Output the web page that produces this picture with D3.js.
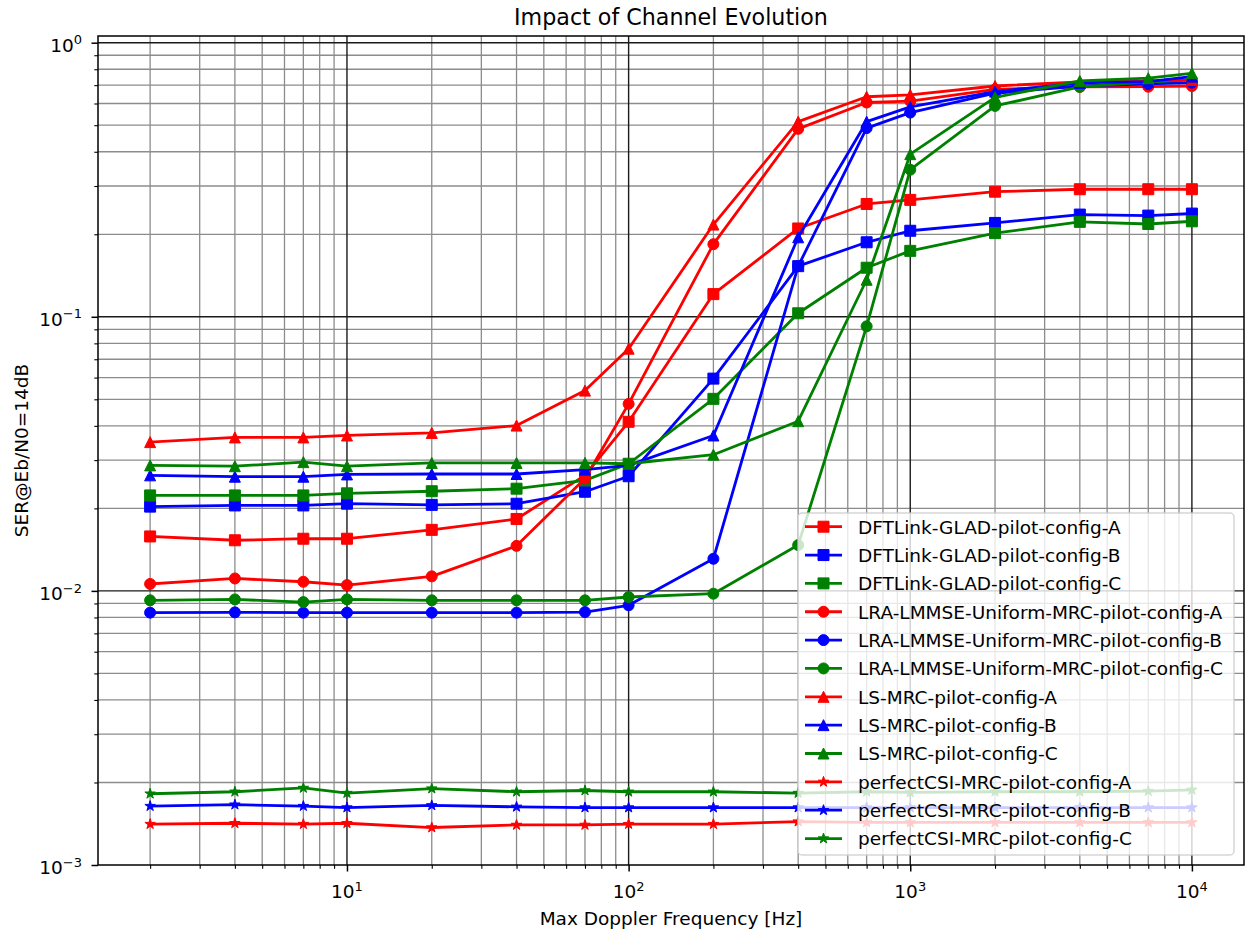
<!DOCTYPE html>
<html>
<head>
<meta charset="utf-8">
<script src="https://cdn.jsdelivr.net/npm/d3@7"></script>
<style>
  body { margin: 0; background: #fff; }
  text { font-family: "DejaVu Sans", sans-serif; fill: #000; }
</style>
</head>
<body>
<svg id="chart" width="1245" height="932"></svg>
<script>
// Max Doppler frequency sweep [Hz]
const dopplerHz = [2, 4, 7, 10, 20, 40, 70, 100, 200, 400, 700, 1000, 2000, 4000, 7000, 10000];

// SER at Eb/N0 = 14 dB, one array per receiver / pilot configuration
const dftGladA = [0.0158, 0.0153, 0.0155, 0.0155, 0.0167, 0.0183, 0.0264, 0.0414, 0.121, 0.210, 0.258, 0.267, 0.286, 0.292, 0.292, 0.292];
const dftGladB = [0.0203, 0.0205, 0.0205, 0.0208, 0.0206, 0.0208, 0.0230, 0.0262, 0.0595, 0.153, 0.187, 0.206, 0.220, 0.236, 0.234, 0.238];
const dftGladC = [0.0223, 0.0223, 0.0223, 0.0227, 0.0231, 0.0236, 0.0253, 0.0291, 0.0502, 0.103, 0.151, 0.174, 0.202, 0.222, 0.218, 0.223];
const lraLmmseA = [0.0106, 0.0111, 0.0108, 0.0105, 0.0113, 0.0146, 0.0257, 0.0481, 0.184, 0.485, 0.605, 0.612, 0.676, 0.690, 0.691, 0.695];
const lraLmmseB = [0.00833, 0.00835, 0.00833, 0.00833, 0.00833, 0.00833, 0.00837, 0.00886, 0.0131, 0.153, 0.488, 0.556, 0.654, 0.695, 0.707, 0.715];
const lraLmmseC = [0.00924, 0.00931, 0.0091, 0.00931, 0.00924, 0.00924, 0.00924, 0.0095, 0.00977, 0.0147, 0.0923, 0.344, 0.588, 0.690, 0.719, 0.731];
const lsMrcA = [0.0349, 0.0363, 0.0363, 0.0369, 0.0377, 0.0401, 0.0538, 0.0765, 0.217, 0.515, 0.635, 0.645, 0.695, 0.719, 0.725, 0.731];
const lsMrcB = [0.0264, 0.0261, 0.0261, 0.0266, 0.0267, 0.0267, 0.0277, 0.0287, 0.0369, 0.195, 0.515, 0.583, 0.663, 0.713, 0.721, 0.752];
const lsMrcC = [0.0287, 0.0285, 0.0295, 0.0285, 0.0293, 0.0293, 0.0293, 0.0291, 0.0314, 0.0416, 0.1365, 0.392, 0.632, 0.725, 0.742, 0.774];
const perfectA = [0.00141, 0.00142, 0.00141, 0.00142, 0.00137, 0.00140, 0.00140, 0.00141, 0.00141, 0.00144, 0.00143, 0.00143, 0.00143, 0.00143, 0.00143, 0.00143];
const perfectB = [0.00164, 0.00166, 0.00164, 0.00162, 0.00165, 0.00163, 0.00162, 0.00162, 0.00162, 0.00162, 0.00162, 0.00162, 0.00162, 0.00162, 0.00162, 0.00162];
const perfectC = [0.00182, 0.00185, 0.00191, 0.00183, 0.00190, 0.00185, 0.00187, 0.00185, 0.00185, 0.00183, 0.00185, 0.00184, 0.00185, 0.00185, 0.00186, 0.00188];

const seriesNames = [
  "DFTLink-GLAD-pilot-config-A", "DFTLink-GLAD-pilot-config-B", "DFTLink-GLAD-pilot-config-C",
  "LRA-LMMSE-Uniform-MRC-pilot-config-A", "LRA-LMMSE-Uniform-MRC-pilot-config-B", "LRA-LMMSE-Uniform-MRC-pilot-config-C",
  "LS-MRC-pilot-config-A", "LS-MRC-pilot-config-B", "LS-MRC-pilot-config-C",
  "perfectCSI-MRC-pilot-config-A", "perfectCSI-MRC-pilot-config-B", "perfectCSI-MRC-pilot-config-C"
];
const seriesValues = [dftGladA, dftGladB, dftGladC, lraLmmseA, lraLmmseB, lraLmmseC, lsMrcA, lsMrcB, lsMrcC, perfectA, perfectB, perfectC];
const seriesColors = ["#ff0000", "#0000ff", "#008000"];
const seriesMarkers = ["square", "circle", "triangle", "star"];

const xMajorTicks = [10, 100, 1000, 10000];
const xTickExponents = ["1", "2", "3", "4"];
const yMajorTicks = [0.001, 0.01, 0.1, 1];
const yTickExponents = ["\u22123", "\u22122", "\u22121", "0"];

const titleText = "Impact of Channel Evolution";
const xLabelText = "Max Doppler Frequency [Hz]";
const yLabelText = "SER@Eb/N0=14dB";

// ---- layout ----
const W = 1245, H = 932;
const plot = { left: 98, right: 1244, top: 36, bottom: 865 };
const FONT = 18.5, SUP = 13;

const svg = d3.select("#chart");

const x = d3.scaleLog()
  .domain([Math.pow(10, 0.1160), Math.pow(10, 4.1850)])
  .range([plot.left, plot.right]);
const y = d3.scaleLog()
  .domain([1e-3, Math.pow(10, 0.0244)])
  .range([plot.bottom, plot.top]);

// minor tick positions (2..9 per decade) inside the domain
function minorTicks(scale) {
  const [a, b] = scale.domain();
  const out = [];
  for (let e = Math.floor(Math.log10(a)); e <= Math.ceil(Math.log10(b)); e++) {
    for (let m = 2; m <= 9; m++) {
      const v = m * Math.pow(10, e);
      if (v >= a && v <= b) out.push(v);
    }
  }
  return out;
}
const xMinor = minorTicks(x);
const yMinor = minorTicks(y);

// ---- grid ----
const grid = svg.append("g");
grid.selectAll(".gxm").data(xMinor).join("line")
  .attr("x1", d => x(d)).attr("x2", d => x(d))
  .attr("y1", plot.top).attr("y2", plot.bottom)
  .attr("stroke", "#8c8c8c").attr("stroke-width", 1.3);
grid.selectAll(".gym").data(yMinor).join("line")
  .attr("y1", d => y(d)).attr("y2", d => y(d))
  .attr("x1", plot.left).attr("x2", plot.right)
  .attr("stroke", "#8c8c8c").attr("stroke-width", 1.3);
grid.selectAll(".gxM").data(xMajorTicks).join("line")
  .attr("x1", d => x(d)).attr("x2", d => x(d))
  .attr("y1", plot.top).attr("y2", plot.bottom)
  .attr("stroke", "#1a1a1a").attr("stroke-width", 1.4);
grid.selectAll(".gyM").data(yMajorTicks.filter(v => v > 1e-3)).join("line")
  .attr("y1", d => y(d)).attr("y2", d => y(d))
  .attr("x1", plot.left).attr("x2", plot.right)
  .attr("stroke", "#1a1a1a").attr("stroke-width", 1.4);

// ---- axes (tick marks only; labels drawn with superscripts below) ----
const xAxisMajor = d3.axisBottom(x).tickValues(xMajorTicks).tickSize(6.5).tickSizeOuter(0).tickFormat("");
const xAxisMinor = d3.axisBottom(x).tickValues(xMinor).tickSize(3.7).tickSizeOuter(0).tickFormat("");
const yAxisMajor = d3.axisLeft(y).tickValues(yMajorTicks).tickSize(6.5).tickSizeOuter(0).tickFormat("");
const yAxisMinor = d3.axisLeft(y).tickValues(yMinor).tickSize(3.7).tickSizeOuter(0).tickFormat("");

function styleAxis(g, w) {
  g.select(".domain").remove();
  g.selectAll(".tick line").attr("stroke", "#000").attr("stroke-width", w);
}
svg.append("g").attr("transform", `translate(0,${plot.bottom})`).call(xAxisMajor).call(g => styleAxis(g, 1.5));
svg.append("g").attr("transform", `translate(0,${plot.bottom})`).call(xAxisMinor).call(g => styleAxis(g, 1.1));
svg.append("g").attr("transform", `translate(${plot.left},0)`).call(yAxisMajor).call(g => styleAxis(g, 1.5));
svg.append("g").attr("transform", `translate(${plot.left},0)`).call(yAxisMinor).call(g => styleAxis(g, 1.1));

// tick labels 10^n
xMajorTicks.forEach((v, i) => {
  const t = svg.append("text")
    .attr("x", x(v)).attr("y", 898.3)
    .attr("text-anchor", "middle")
    .attr("font-size", FONT);
  t.append("tspan").text("10");
  t.append("tspan").attr("font-size", SUP).attr("dy", -7.6).text(xTickExponents[i]);
});
yMajorTicks.forEach((v, i) => {
  const t = svg.append("text")
    .attr("x", 82).attr("y", y(v) + 9.3)
    .attr("text-anchor", "end")
    .attr("font-size", FONT);
  t.append("tspan").text("10");
  t.append("tspan").attr("font-size", SUP).attr("dy", -7.6).text(yTickExponents[i]);
});

// ---- markers ----
function markerPath(kind, s) {
  const r = s / 2;
  if (kind === "square") return `M${-r},${-r}H${r}V${r}H${-r}Z`;
  if (kind === "circle") return `M${r},0A${r},${r} 0 1,1 ${-r},0A${r},${r} 0 1,1 ${r},0Z`;
  if (kind === "triangle") return `M0,${-r}L${-r},${r}L${r},${r}Z`;
  // five-pointed star
  const pts = [];
  for (let k = 0; k < 10; k++) {
    const rad = k % 2 === 0 ? r : r * 0.381966;
    const ang = -Math.PI / 2 + k * Math.PI / 5;
    pts.push([rad * Math.cos(ang), rad * Math.sin(ang)]);
  }
  return "M" + pts.map(p => p[0].toFixed(3) + "," + p[1].toFixed(3)).join("L") + "Z";
}
const MS = 11;

// ---- series ----
const lineGen = d3.line().x(d => x(d[0])).y(d => y(d[1]));
const plotArea = svg.append("g");
seriesValues.forEach((vals, i) => {
  const color = seriesColors[i % 3];
  const marker = seriesMarkers[Math.floor(i / 3)];
  const pts = dopplerHz.map((f, j) => [f, vals[j]]);
  const g = plotArea.append("g");
  g.append("path").datum(pts).attr("d", lineGen)
    .attr("fill", "none").attr("stroke", color).attr("stroke-width", 2.8)
    .attr("stroke-linejoin", "round").attr("stroke-linecap", "square");
  g.selectAll("path.m").data(pts).join("path").attr("class", "m")
    .attr("transform", d => `translate(${x(d[0])},${y(d[1])})`)
    .attr("d", markerPath(marker, marker === "star" ? MS : MS))
    .attr("fill", color).attr("stroke", color).attr("stroke-width", 1);
});

// ---- frame ----
svg.append("rect")
  .attr("x", plot.left).attr("y", plot.top)
  .attr("width", plot.right - plot.left).attr("height", plot.bottom - plot.top)
  .attr("fill", "none").attr("stroke", "#000").attr("stroke-width", 1.5);

// ---- legend ----
const leg = { x: 798, y: 513, w: 436, h: 342, row0: 526.7, step: 28.35 };
const lg = svg.append("g");
lg.append("rect")
  .attr("x", leg.x).attr("y", leg.y).attr("width", leg.w).attr("height", leg.h)
  .attr("rx", 4).attr("ry", 4)
  .attr("fill", "#fff").attr("fill-opacity", 0.8)
  .attr("stroke", "#cccccc").attr("stroke-opacity", 0.8).attr("stroke-width", 1.5);
seriesNames.forEach((name, i) => {
  const cy = leg.row0 + i * leg.step;
  const color = seriesColors[i % 3];
  const marker = seriesMarkers[Math.floor(i / 3)];
  lg.append("line").attr("x1", 805).attr("x2", 842).attr("y1", cy).attr("y2", cy)
    .attr("stroke", color).attr("stroke-width", 2.8);
  lg.append("path").attr("transform", `translate(823.5,${cy})`)
    .attr("d", markerPath(marker, MS))
    .attr("fill", color).attr("stroke", color).attr("stroke-width", 1);
  lg.append("text").attr("x", 858).attr("y", cy + 6.9)
    .attr("font-size", FONT).text(name);
});

// ---- titles ----
svg.append("text").attr("x", (plot.left + plot.right) / 2).attr("y", 25)
  .attr("text-anchor", "middle").attr("font-size", 22.2).text(titleText);
svg.append("text").attr("x", (plot.left + plot.right) / 2).attr("y", 925)
  .attr("text-anchor", "middle").attr("font-size", FONT).text(xLabelText);
svg.append("text")
  .attr("transform", `translate(28.3,${(plot.top + plot.bottom) / 2}) rotate(-90)`)
  .attr("text-anchor", "middle").attr("font-size", FONT).text(yLabelText);
</script>
</body>
</html>
